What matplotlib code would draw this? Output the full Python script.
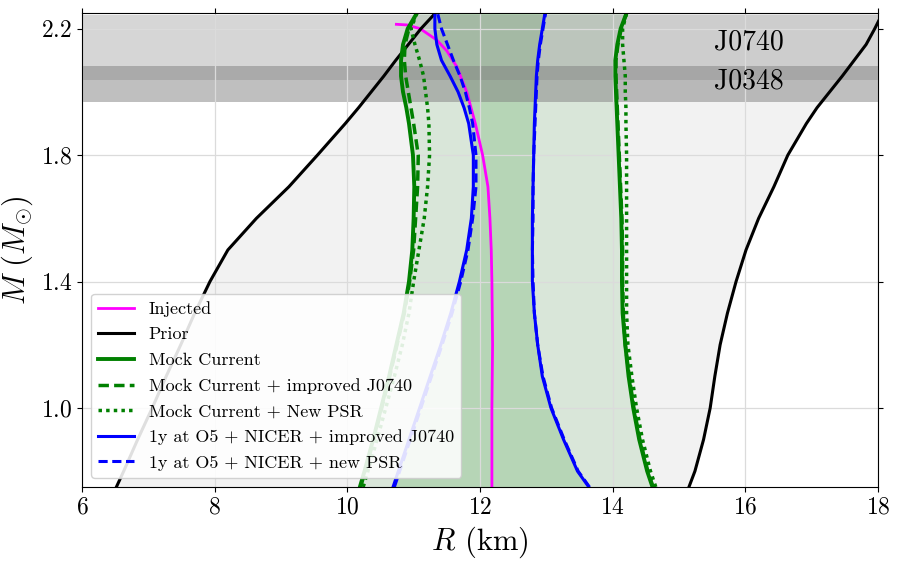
import numpy as np
import matplotlib
matplotlib.use('Agg')
import matplotlib.pyplot as plt

plt.rcParams['font.family'] = 'serif'
plt.rcParams['font.serif'] = ['cmr10']
plt.rcParams['mathtext.fontset'] = 'cm'
plt.rcParams['axes.unicode_minus'] = False
plt.rcParams['axes.formatter.use_mathtext'] = True

mass = np.array([0.75, 0.80, 0.90, 1.00, 1.10, 1.20, 1.30, 1.40, 1.50, 1.60,
                 1.70, 1.80, 1.90, 1.95, 2.00, 2.05, 2.10, 2.15, 2.20, 2.25])

# radius (km) of the 90% contours, left and right edge
prior_lo = np.array([6.52, 6.63, 6.84, 7.06, 7.27, 7.49, 7.70, 7.93, 8.20, 8.63,
                     9.12, 9.55, 9.97, 10.17, 10.36, 10.55, 10.73, 10.92, 11.11, 11.33])
prior_hi = np.array([15.15, 15.24, 15.37, 15.47, 15.54, 15.62, 15.73, 15.86, 16.01, 16.20,
                     16.43, 16.64, 16.92, 17.08, 17.27, 17.46, 17.64, 17.82, 17.95, 18.07])

cur_lo = np.array([10.19, 10.26, 10.39, 10.51, 10.63, 10.74, 10.85, 10.93, 10.98, 11.00,
                   11.01, 10.99, 10.93, 10.89, 10.84, 10.81, 10.81, 10.84, 10.91, 11.05])
cur_hi = np.array([14.60, 14.52, 14.40, 14.31, 14.24, 14.19, 14.15, 14.14, 14.14, 14.13,
                   14.11, 14.09, 14.07, 14.06, 14.05, 14.04, 14.04, 14.07, 14.12, 14.21])

j0740_lo = np.array([10.20, 10.27, 10.40, 10.52, 10.64, 10.75, 10.86, 10.94, 11.00, 11.03,
                     11.06, 11.07, 11.00, 10.96, 10.92, 10.88, 10.86, 10.87, 10.93, 11.05])
j0740_hi = np.array([14.61, 14.53, 14.41, 14.32, 14.25, 14.19, 14.16, 14.15, 14.15, 14.14,
                     14.12, 14.10, 14.08, 14.07, 14.06, 14.05, 14.05, 14.08, 14.13, 14.21])

psr_lo = np.array([10.24, 10.31, 10.45, 10.58, 10.71, 10.83, 10.93, 11.00, 11.08, 11.16,
                   11.21, 11.24, 11.23, 11.21, 11.18, 11.15, 11.09, 11.02, 10.96, 11.05])
psr_hi = np.array([14.65, 14.57, 14.45, 14.36, 14.29, 14.23, 14.21, 14.21, 14.21, 14.21,
                   14.21, 14.21, 14.20, 14.20, 14.19, 14.19, 14.17, 14.15, 14.15, 14.21])

o5_j0740_lo = np.array([10.69, 10.77, 10.93, 11.09, 11.25, 11.41, 11.56, 11.69, 11.80, 11.87,
                        11.90, 11.90, 11.83, 11.76, 11.67, 11.55, 11.42, 11.35, 11.32, 11.32])
o5_j0740_hi = np.array([13.64, 13.47, 13.26, 13.07, 12.94, 12.87, 12.82, 12.79, 12.79, 12.79,
                        12.80, 12.81, 12.82, 12.83, 12.84, 12.85, 12.87, 12.90, 12.94, 12.98])

o5_psr_lo = np.array([10.71, 10.79, 10.95, 11.11, 11.27, 11.43, 11.58, 11.71, 11.82, 11.89,
                      11.94, 11.94, 11.89, 11.84, 11.78, 11.70, 11.60, 11.51, 11.42, 11.36])
o5_psr_hi = np.array([13.65, 13.48, 13.27, 13.08, 12.95, 12.87, 12.82, 12.80, 12.79, 12.80,
                      12.80, 12.81, 12.83, 12.84, 12.85, 12.86, 12.88, 12.91, 12.95, 12.99])

# injected EOS
inj_m = np.array([0.75, 1.00, 1.20, 1.40, 1.50, 1.60, 1.70, 1.80, 1.90, 2.00,
                  2.08, 2.13, 2.164, 2.20, 2.212, 2.214])
inj_r = np.array([12.18, 12.18, 12.19, 12.18, 12.17, 12.15, 12.12, 12.04, 11.93, 11.80,
                  11.65, 11.50, 11.35, 11.10, 10.90, 10.74])

# pulsar mass bands
bands = {'J0740': (2.039, 2.242), 'J0348': (1.968, 2.081)}
band_alpha = {'J0740': 0.32, 'J0348': 0.5}
band_text_y = {'J0740': 2.158, 'J0348': 2.032}

fig = plt.figure(figsize=(9, 5.62), dpi=100)
ax = fig.add_subplot(111)
fig.subplots_adjust(left=0.091, right=0.9756, bottom=0.1335, top=0.977)

ax.fill_betweenx(mass, prior_lo, prior_hi, color='k', alpha=0.05, lw=0)
ax.fill_betweenx(mass, cur_lo, cur_hi, color='g', alpha=0.1, lw=0)
ax.fill_betweenx(mass, o5_j0740_lo, o5_j0740_hi, color='g', alpha=0.16, lw=0)

for name in bands:
    lo, hi = bands[name]
    ax.axhspan(lo, hi, color='gray', alpha=band_alpha[name], lw=0)
    ax.text(16.05, band_text_y[name], name, fontsize=20, ha='center', va='center')

ax.plot(inj_r, inj_m, color='magenta', lw=2, label='Injected')
ax.plot(prior_lo, mass, color='k', lw=2.2, label='Prior')
ax.plot(prior_hi, mass, color='k', lw=2.2)
ax.plot(cur_lo, mass, color='g', lw=2.8, label='Mock Current')
ax.plot(cur_hi, mass, color='g', lw=2.8)
ax.plot(j0740_lo, mass, color='g', lw=2.5, ls=(0, (3, 1.5)), label='Mock Current + improved J0740')
ax.plot(j0740_hi, mass, color='g', lw=2.5, ls=(0, (3, 1.5)))
ax.plot(psr_lo, mass, color='g', lw=2.5, ls=(0, (1, 1.2)), label='Mock Current + New PSR')
ax.plot(psr_hi, mass, color='g', lw=2.5, ls=(0, (1, 1.2)))
ax.plot(o5_j0740_lo, mass, color='b', lw=2.2, label='1y at O5 + NICER + improved J0740')
ax.plot(o5_j0740_hi, mass, color='b', lw=2.2)
ax.plot(o5_psr_lo, mass, color='b', lw=2.2, ls=(0, (3, 1.5)), label='1y at O5 + NICER + new PSR')
ax.plot(o5_psr_hi, mass, color='b', lw=2.2, ls=(0, (3, 1.5)))

ax.set_xlim(6, 18)
ax.set_ylim(0.75, 2.25)
ax.set_xticks(np.arange(6, 19, 2))
ax.set_yticks([1.0, 1.4, 1.8, 2.2])
ax.tick_params(direction='out', top=True, right=True, labelsize=17)
ax.grid(True, color='0.86', lw=0.9)
ax.set_xlabel(r'$R$ (km)', fontsize=22)
ax.set_ylabel(r'$M\ (M_{\odot})$', fontsize=22)

ax.legend(loc='lower left', fontsize=13, labelspacing=0.55, framealpha=0.88)

plt.savefig('out.png', dpi=100)
